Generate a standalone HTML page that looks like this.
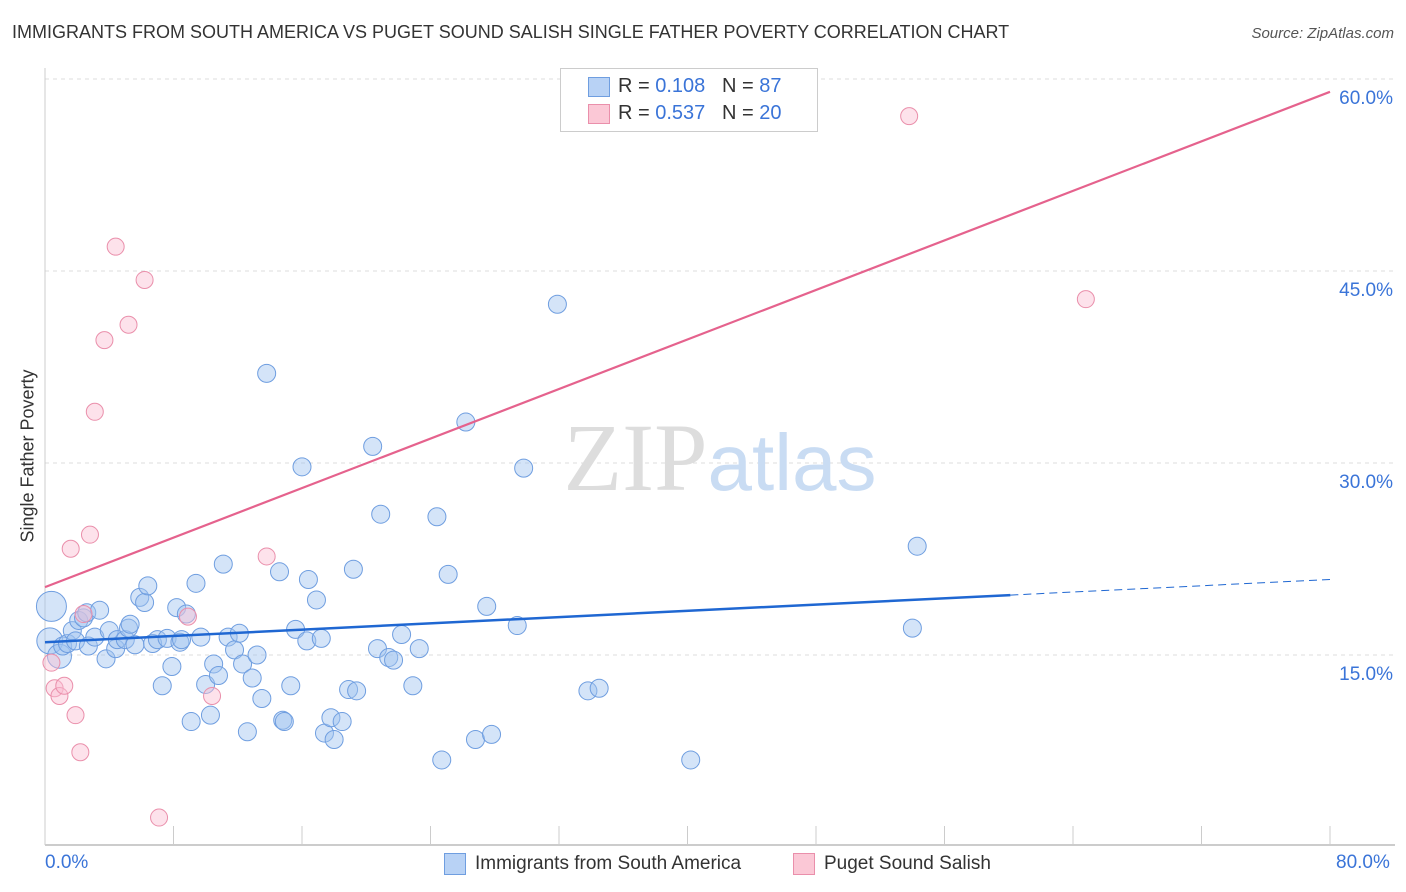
<!DOCTYPE html>
<html><head><meta charset="utf-8"><style>
body{margin:0;background:#fff;font-family:"Liberation Sans",sans-serif;}
#wrap{position:relative;width:1406px;height:892px;overflow:hidden;}
.t{position:absolute;white-space:nowrap;}
</style></head><body>
<div id="wrap">
<div class="t" style="left:12px;top:22px;font-size:18px;color:#333;">IMMIGRANTS FROM SOUTH AMERICA VS PUGET SOUND SALISH SINGLE FATHER POVERTY CORRELATION CHART</div>
<div class="t" style="right:12px;top:25px;font-size:15px;color:#555;font-style:italic;">Source: ZipAtlas.com</div>
<div class="t" style="left:28px;top:456px;font-size:18px;color:#333;transform:translate(-50%,-50%) rotate(-90deg);">Single Father Poverty</div>
<svg id="plot" width="1406" height="892" style="position:absolute;left:0;top:0"></svg>
<div style="position:absolute;left:560px;top:68px;width:256px;height:62px;border:1px solid #ccc;background:#fff;font-size:20px;">
 <div style="position:absolute;left:27px;top:8px;width:20px;height:18px;background:#b8d2f5;border:1px solid #6f9ee0;"></div>
 <div class="t" style="left:57px;top:6px;color:#333;">R = <span style="color:#3a74d8">0.108</span>&nbsp;&nbsp;&nbsp;N = <span style="color:#3a74d8">87</span></div>
 <div style="position:absolute;left:27px;top:35px;width:20px;height:18px;background:#fbc8d6;border:1px solid #ea8fab;"></div>
 <div class="t" style="left:57px;top:33px;color:#333;">R = <span style="color:#3a74d8">0.537</span>&nbsp;&nbsp;&nbsp;N = <span style="color:#3a74d8">20</span></div>
</div>
<div class="t" style="left:45px;top:852px;font-size:19px;color:#3a74d8;">0.0%</div>
<div class="t" style="left:1336px;top:852px;font-size:19px;color:#3a74d8;">80.0%</div>
<div style="position:absolute;left:444px;top:853px;width:20px;height:20px;background:#b8d2f5;border:1px solid #6f9ee0;"></div>
<div class="t" style="left:475px;top:853px;font-size:19px;color:#333;">Immigrants from South America</div>
<div style="position:absolute;left:793px;top:853px;width:20px;height:20px;background:#fbc8d6;border:1px solid #ea8fab;"></div>
<div class="t" style="left:824px;top:853px;font-size:19px;color:#333;">Puget Sound Salish</div>
</div>
<script>
const yTicks=[15,30,45,60];
const yTickLabels=["15.0%","30.0%","45.0%","60.0%"];
const blueX=[0.4,0.3,0.9,1.1,1.4,1.7,1.9,2.1,2.4,2.6,2.7,3.1,3.4,3.8,4.0,4.4,4.5,5.0,5.2,5.3,5.6,5.9,6.2,6.4,6.7,7.0,7.3,7.6,7.9,8.2,8.4,8.5,8.8,9.1,9.4,9.7,10.0,10.3,10.5,10.8,11.1,11.4,11.8,12.1,12.3,12.6,12.9,13.2,13.5,13.8,14.6,14.8,14.9,15.3,15.6,16.0,16.3,16.4,16.9,17.2,17.4,17.8,18.0,18.5,18.9,19.2,19.4,20.4,20.7,20.9,21.4,21.7,22.2,22.9,23.3,24.4,24.7,25.1,26.2,26.8,27.5,27.8,29.4,29.8,31.9,33.8,34.5,40.2,54.0,54.3];
const blueY=[18.8,16.1,14.9,15.7,15.9,16.9,16.1,17.7,17.9,18.3,15.7,16.4,18.5,14.7,16.9,15.5,16.2,16.2,17.1,17.4,15.8,19.5,19.1,20.4,15.9,16.2,12.6,16.3,14.1,18.7,16.0,16.2,18.2,9.8,20.6,16.4,12.7,10.3,14.3,13.4,22.1,16.4,15.4,16.7,14.3,9.0,13.2,15.0,11.6,37.0,21.5,9.9,9.8,12.6,17.0,29.7,16.1,20.9,19.3,16.3,8.9,10.1,8.4,9.8,12.3,21.7,12.2,31.3,15.5,26.0,14.8,14.6,16.6,12.6,15.5,25.8,6.8,21.3,33.2,8.4,18.8,8.8,17.3,29.6,42.4,12.2,12.4,6.8,17.1,23.5];
const pinkX=[0.4,0.6,0.9,1.2,1.9,2.2,2.4,2.8,3.1,3.7,4.4,5.2,6.2,7.1,8.9,10.4,13.8,53.8,64.8,1.6];
const pinkY=[14.4,12.4,11.8,12.6,10.3,7.4,18.2,24.4,34.0,39.6,46.9,40.8,44.3,2.3,18.0,11.8,22.7,57.1,42.8,23.3];
const blueLine=[16.0,20.9], pinkLine=[20.3,59.0];
const NS="http://www.w3.org/2000/svg",svg=document.getElementById('plot');
const X=v=>45+v/80*1285, Y=v=>847-v/15*192;
function mk(t,a){const e=document.createElementNS(NS,t);for(const k in a)e.setAttribute(k,a[k]);svg.appendChild(e);return e;}
yTicks.forEach((t,i)=>{
 const g=mk('line',{x1:45,x2:1395,y1:Y(t),y2:Y(t),stroke:'#ddd','stroke-dasharray':'4,4'});
 
 
 const tx=mk('text',{x:1393,y:Y(t)+25,'text-anchor':'end','font-size':19,fill:'#3a74d8','font-family':'Liberation Sans'});
 tx.textContent=yTickLabels[i];
 
 
});
const ax=mk('line',{x1:45,x2:1395,y1:845,y2:845,stroke:'#bbb','stroke-width':1.5});


const ay=mk('line',{x1:45,x2:45,y1:68,y2:845,stroke:'#ccc'});


for(let i=1;i<=10;i++){const tk=mk('line',{x1:X(i*8),x2:X(i*8),y1:826,y2:845,stroke:'#ccc'});
 
 }
const wm=mk('text',{x:720,y:490,'text-anchor':'middle','font-size':96,fill:'#ddd','font-family':'Liberation Serif'});
wm.innerHTML='ZIP<tspan fill="#c9dcf3" font-family="Liberation Sans" font-size="80">atlas</tspan>';


blueX.forEach((v,i)=>{const r=i==0?15:(i==1?13:(i==2?12:9));
 const c=mk('circle',{cx:X(v),cy:Y(blueY[i]),r:r,fill:'rgba(160,195,240,0.45)',stroke:'#6f9ee0','stroke-width':1});
 
 });
pinkX.forEach((v,i)=>{
 const c=mk('circle',{cx:X(v),cy:Y(pinkY[i]),r:8.5,fill:'rgba(250,190,210,0.45)',stroke:'#ea8fab','stroke-width':1});
 
 });
const bx=60.1, by=blueLine[0]+(blueLine[1]-blueLine[0])*bx/80;
const bl=mk('line',{x1:X(0),y1:Y(blueLine[0]),x2:X(bx),y2:Y(by),stroke:'#1f67d2','stroke-width':2.5});


const bd=mk('line',{x1:X(bx),y1:Y(by),x2:X(80),y2:Y(blueLine[1]),stroke:'#1f67d2','stroke-width':1,'stroke-dasharray':'8,5'});


const pl=mk('line',{x1:X(0),y1:Y(pinkLine[0]),x2:X(80),y2:Y(pinkLine[1]),stroke:'#e5628d','stroke-width':2.2});


</script>
</body></html>
